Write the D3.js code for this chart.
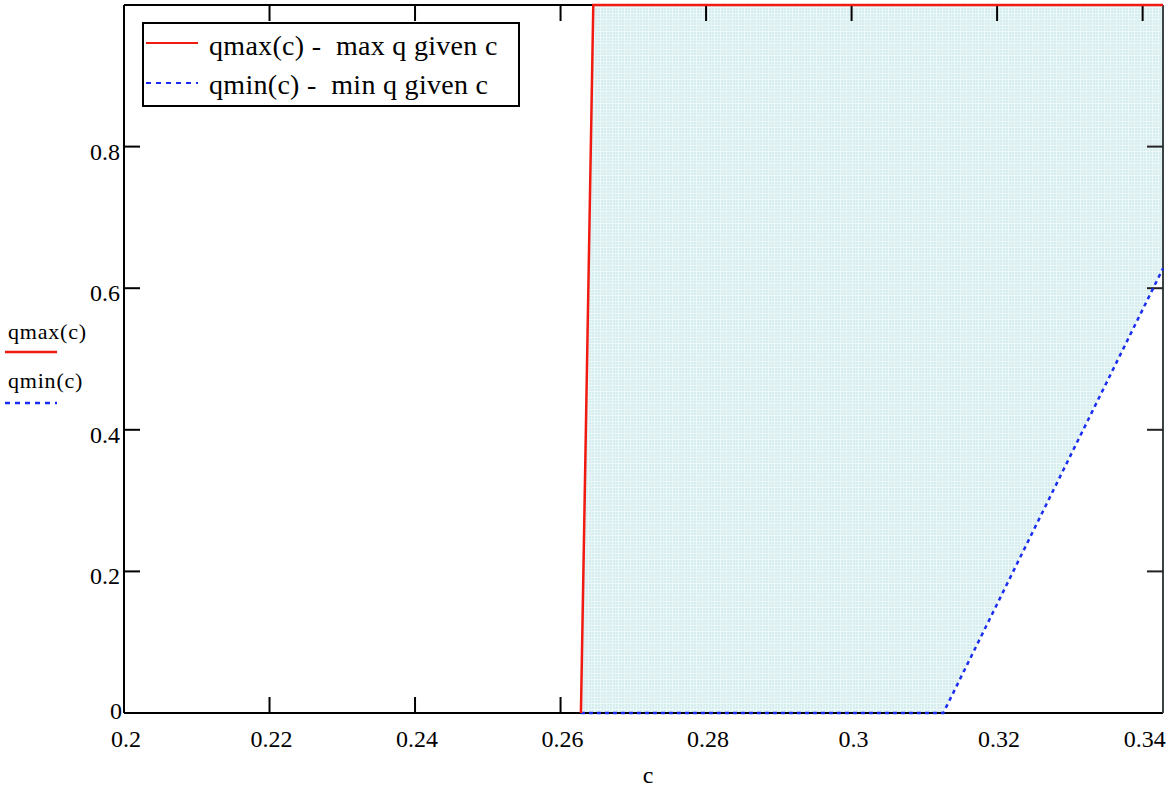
<!DOCTYPE html>
<html>
<head>
	<meta charset="utf-8">
	<title>qmax / qmin</title>
	<script type="text/javascript" src="https://d3js.org/d3.v7.min.js"></script>
	<style>
		body { margin: 0; background: #fff; }
	</style>
</head>
<body>
	<div id="chart"></div>
	<script>
	// qmax(c) - max q given c
	var cMax = [0.2628, 0.2645, 0.3428];
	var qMaxVals = [0, 1, 1];
	// qmin(c) - min q given c
	var cMin = [0.2628, 0.3126, 0.3428];
	var qMinVals = [0, 0, 0.628];

	var xTicks = [0.2, 0.22, 0.24, 0.26, 0.28, 0.3, 0.32, 0.34];
	var xTickLabels = ["0.2", "0.22", "0.24", "0.26", "0.28", "0.3", "0.32", "0.34"];
	var yTicks = [0, 0.2, 0.4, 0.6, 0.8];
	var yTickLabels = ["0", "0.2", "0.4", "0.6", "0.8"];
	var legendLabels = ["qmax(c) -  max q given c", "qmin(c) -  min q given c"];
	var sideLabels = ["qmax(c)", "qmin(c)"];

	var serif = "'Liberation Serif', 'Times New Roman', Tinos, 'DejaVu Serif', serif";

	var width = 1175;
	var height = 793;
	var margin = {left: 124, top: 5, right: 12, bottom: 80};
	var w = width - margin.left - margin.right;
	var h = height - margin.top - margin.bottom;

	var x = d3.scaleLinear().domain([0.2, 0.3428]).range([0, w]);
	var y = d3.scaleLinear().domain([0, 1]).range([h, 0]);

	var maxPts = cMax.map(function(c, i){ return [c, qMaxVals[i]]; });
	var minPts = cMin.map(function(c, i){ return [c, qMinVals[i]]; });

	var svg = d3.select("#chart")
				.append("svg")
					.attr("width", width)
					.attr("height", height)
					.attr("font-family", serif);

	var defs = svg.append("defs");
	var pat = defs.append("pattern")
			.attr("id", "fillpat")
			.attr("patternUnits", "userSpaceOnUse")
			.attr("width", 6)
			.attr("height", 6);
	pat.append("rect").attr("width", 6).attr("height", 6).attr("fill", "#d6edef");
	pat.append("rect").attr("x", 2).attr("width", 1).attr("height", 6).attr("fill", "#f0f9fa");
	pat.append("rect").attr("y", 2).attr("width", 6).attr("height", 1).attr("fill", "#f0f9fa");
	pat.append("rect").attr("x", 5).attr("width", 1).attr("height", 6).attr("fill", "#e5f4f5");
	pat.append("rect").attr("y", 5).attr("width", 6).attr("height", 1).attr("fill", "#e5f4f5");

	var g = svg.append("g")
			.attr("transform", "translate(" + margin.left + "," + margin.top + ")");

	var tickLen = 16;

	// bottom ticks (under the fill)
	g.selectAll(".xtick-b")
		.data(xTicks)
		.enter()
		.append("line")
		.attr("x1", function(d){ return x(d); })
		.attr("x2", function(d){ return x(d); })
		.attr("y1", h)
		.attr("y2", h - tickLen)
		.attr("stroke", "#000")
		.attr("stroke-width", 2);

	var line = d3.line()
			.x(function(d){ return x(d[0]); })
			.y(function(d){ return y(d[1]); });

	// region between qmin and qmax
	var region = maxPts.concat(minPts.slice().reverse());
	g.append("path")
		.attr("d", line(region) + "Z")
		.attr("fill", "url(#fillpat)");

	// white below qmin
	var under = minPts.concat([[cMin[cMin.length - 1], 0]]);
	g.append("path")
		.attr("d", line(under) + "Z")
		.attr("fill", "#fff");

	// frame
	g.append("line").attr("x1", 0).attr("x2", w).attr("y1", h).attr("y2", h)
		.attr("stroke", "#000").attr("stroke-width", 2);
	g.append("line").attr("x1", 0).attr("x2", 0).attr("y1", 0).attr("y2", h)
		.attr("stroke", "#000").attr("stroke-width", 2);
	g.append("line").attr("x1", 0).attr("x2", w).attr("y1", 0).attr("y2", 0)
		.attr("stroke", "#000").attr("stroke-width", 2);
	g.append("line").attr("x1", w).attr("x2", w).attr("y1", 0).attr("y2", h)
		.attr("stroke", "#3a4446").attr("stroke-width", 2);

	// top, left, right ticks
	g.selectAll(".xtick-t")
		.data(xTicks)
		.enter()
		.append("line")
		.attr("x1", function(d){ return x(d); })
		.attr("x2", function(d){ return x(d); })
		.attr("y1", 0)
		.attr("y2", tickLen)
		.attr("stroke", "#000")
		.attr("stroke-width", 2);
	g.selectAll(".ytick-l")
		.data(yTicks)
		.enter()
		.append("line")
		.attr("x1", 0)
		.attr("x2", tickLen)
		.attr("y1", function(d){ return y(d); })
		.attr("y2", function(d){ return y(d); })
		.attr("stroke", "#000")
		.attr("stroke-width", 2);
	g.selectAll(".ytick-r")
		.data(yTicks.slice(1))
		.enter()
		.append("line")
		.attr("x1", w - tickLen)
		.attr("x2", w)
		.attr("y1", function(d){ return y(d); })
		.attr("y2", function(d){ return y(d); })
		.attr("stroke", "#222")
		.attr("stroke-width", 2);

	// traces
	g.append("path")
		.attr("d", line(minPts))
		.attr("fill", "none")
		.attr("stroke", "#1a2cf0")
		.attr("stroke-width", 2.5)
		.attr("stroke-dasharray", "4,4");
	g.append("path")
		.attr("d", line(maxPts))
		.attr("fill", "none")
		.attr("stroke", "#f01a10")
		.attr("stroke-width", 2.5);

	// tick labels
	g.selectAll(".xlab")
		.data(xTicks)
		.enter()
		.append("text")
		.attr("x", function(d){ return x(d) + 2; })
		.attr("y", h + 34)
		.attr("text-anchor", "middle")
		.attr("font-size", 24)
		.text(function(d, i){ return xTickLabels[i]; });
	g.selectAll(".ylab")
		.data(yTicks)
		.enter()
		.append("text")
		.attr("x", function(d){ return d === 0 ? -2 : -4; })
		.attr("y", function(d){ return y(d) + (d === 0 ? 6 : 13); })
		.attr("text-anchor", "end")
		.attr("font-size", 24)
		.text(function(d, i){ return yTickLabels[i]; });

	// axis title
	svg.append("text")
		.attr("x", 648)
		.attr("y", 783)
		.attr("text-anchor", "middle")
		.attr("font-size", 24)
		.text("c");

	// side labels with line samples
	var side = svg.append("g");
	side.append("text").attr("x", 8).attr("y", 339).attr("font-size", 22)
		.attr("letter-spacing", 0.8).text(sideLabels[0]);
	side.append("line").attr("x1", 5).attr("x2", 57).attr("y1", 352).attr("y2", 352)
		.attr("stroke", "#f01a10").attr("stroke-width", 2.5);
	side.append("text").attr("x", 8).attr("y", 388).attr("font-size", 22)
		.attr("letter-spacing", 0.8).text(sideLabels[1]);
	side.append("line").attr("x1", 5).attr("x2", 57).attr("y1", 403).attr("y2", 403)
		.attr("stroke", "#1a2cf0").attr("stroke-width", 2.5).attr("stroke-dasharray", "5,5");

	// legend box
	var lg = svg.append("g");
	lg.append("rect")
		.attr("x", 143).attr("y", 23).attr("width", 376).attr("height", 83)
		.attr("fill", "#fff").attr("stroke", "#000").attr("stroke-width", 2);
	lg.append("line").attr("x1", 146).attr("x2", 198).attr("y1", 43).attr("y2", 43)
		.attr("stroke", "#f01a10").attr("stroke-width", 2);
	lg.append("line").attr("x1", 146).attr("x2", 198).attr("y1", 83).attr("y2", 83)
		.attr("stroke", "#1a2cf0").attr("stroke-width", 2).attr("stroke-dasharray", "5,5");
	lg.selectAll(".lgtext")
		.data(legendLabels)
		.enter()
		.append("text")
		.attr("x", 209)
		.attr("y", function(d, i){ return 55 + i * 39; })
		.attr("font-size", 28)
		.attr("letter-spacing", 0.3)
		.style("white-space", "pre")
		.text(function(d){ return d; });
	</script>
</body>
</html>
